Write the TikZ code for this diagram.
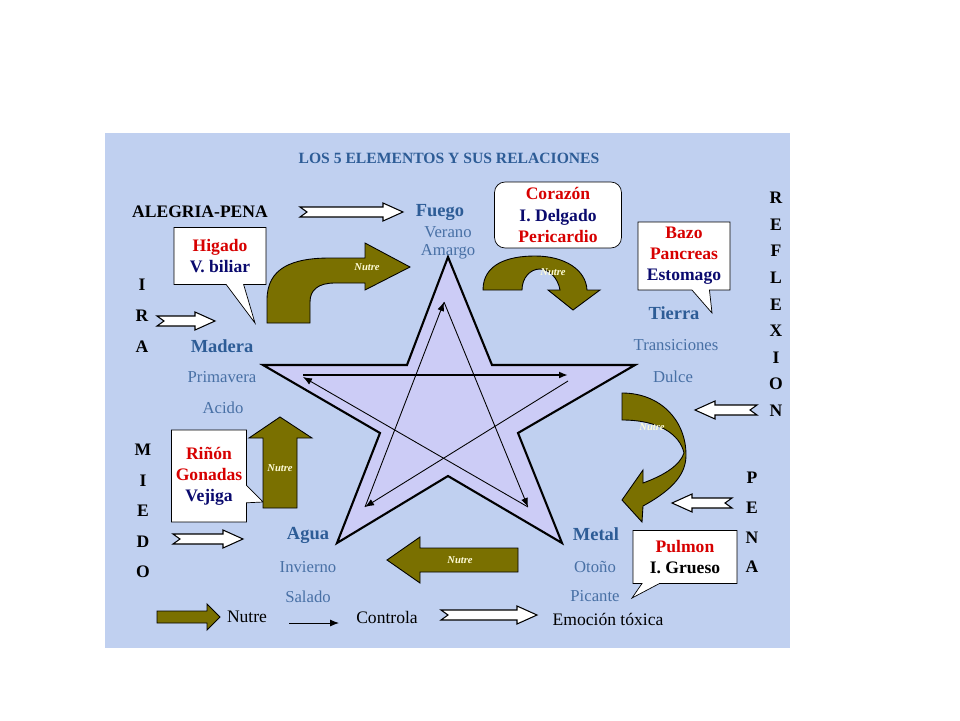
\documentclass[tikz,border=0pt]{standalone}
\usepackage{fontspec}
\setmainfont{Liberation Serif}
\usetikzlibrary{arrows.meta,shapes.callouts}

\definecolor{panel}{RGB}{192,208,240}
\definecolor{starfill}{RGB}{204,204,246}
\definecolor{elemblue}{RGB}{45,92,150}
\definecolor{subblue}{RGB}{72,112,165}
\definecolor{organred}{RGB}{215,0,0}
\definecolor{organnavy}{RGB}{10,10,110}
\definecolor{nutre}{RGB}{122,112,0}

\begin{document}
\begin{tikzpicture}[x=0.02cm,y=-0.02cm,
   elem/.style={text=elemblue,font=\fontsize{10.5}{12}\selectfont\bfseries,inner sep=0pt},
   sub/.style={text=subblue,font=\fontsize{9.5}{11}\selectfont,inner sep=0pt},
   organ/.style={draw,fill=white,rectangle callout,callout pointer width=0.35cm,align=center,
                 font=\fontsize{10}{12}\selectfont\bfseries,inner sep=2pt},
   letter/.style={font=\fontsize{10}{12}\selectfont\bfseries,inner sep=0pt},
   nutrebox/.style={draw,fill=nutre,line width=0.5pt},
   nutrelab/.style={text=yellow!15,font=\fontsize{6}{7}\selectfont\bfseries\itshape,inner sep=0pt},
   legend/.style={font=\fontsize{10}{12}\selectfont,inner sep=0pt},
   ctrl/.style={-{Latex[length=1.8mm,width=1.4mm]},line width=0.5pt},
   emo len/.store in=\emolen, emo len=80,
   emoarrow/.pic={\draw[fill=white,line width=0.6pt] (0,-5) -- (\emolen-20,-5) -- (\emolen-20,-9)
      -- (\emolen,0) -- (\emolen-20,9) -- (\emolen-20,5) -- (0,5) -- (7,0) -- cycle;}]
  \useasboundingbox (0,0) rectangle (960,720);
  \fill[white] (0,0) rectangle (960,720);
  \fill[panel] (105,133) rectangle (790,648);

  \node[text=elemblue,font=\fontsize{8.9}{10}\selectfont\bfseries] (title) at (449,158) {LOS 5 ELEMENTOS Y SUS RELACIONES};

  % estrella
  \draw[fill=starfill,line width=1.2pt,line join=miter]
    (448,257) -- (492,365) -- (635,365) -- (518,433) -- (562,543) -- (448,476)
    -- (337,543) -- (380,433) -- (263,365) -- (407,365) -- cycle;
  \coordinate (mad) at (303,375);
  \coordinate (tie) at (568,375);
  \coordinate (agu) at (365,507);
  \coordinate (fue) at (444,302);
  \coordinate (met) at (528,507);
  \draw[ctrl,line width=1.3pt] (mad) -- (tie);
  \draw[ctrl] ([yshift=-0.12cm]tie) -- (agu);
  \draw[ctrl] (agu) -- (fue);
  \draw[ctrl] (fue) -- (met);
  \draw[ctrl] (met) -- ([yshift=-0.04cm]mad);

  % elementos
  \node[elem] (fuego) at (440,212) {Fuego};
  \node[sub] (verano) at (448,232) {Verano};
  \node[sub] (amargo) at (448,252) {Amargo};
  \node[elem] (tierra) at (674,313) {Tierra};
  \node[sub] (transiciones) at (676,345) {Transiciones};
  \node[sub] (dulce) at (673,377) {Dulce};
  \node[elem] (madera) at (222,346) {Madera};
  \node[sub] (primavera) at (222,377) {Primavera};
  \node[sub] (acido) at (223,408) {Acido};
  \node[elem] (agua) at (308,535) {Agua};
  \node[sub] (invierno) at (308,567) {Invierno};
  \node[sub] (salado) at (308,597) {Salado};
  \node[elem] (metal) at (596,534) {Metal};
  \node[sub] (otono) at (595,567) {Otoño};
  \node[sub] (picante) at (595,596) {Picante};

  % organos
  \node[organ,minimum width=1.84cm,minimum height=1.14cm,callout absolute pointer={(255,323)}]
    (higado) at (220,256) {\color{organred}Higado\\\color{organnavy}V. biliar};
  \node[organ,minimum width=1.5cm,minimum height=1.84cm,callout absolute pointer={(263,502)}]
    (rinon) at (209,476) {\color{organred}Riñón\\\color{organred}Gonadas\\\color{organnavy}Vejiga};
  \node[organ,minimum width=2.08cm,minimum height=1.06cm,callout absolute pointer={(632,598)}]
    (pulmon) at (685,557) {\color{organred}Pulmon\\I. Grueso};
  \node[organ,minimum width=1.84cm,minimum height=1.36cm,callout absolute pointer={(712,313)}]
    (bazo) at (684,256) {\color{organred}Bazo\\\color{organred}Pancreas\\\color{organnavy}Estomago};
  \node[draw,fill=white,rounded corners=6pt,minimum width=2.54cm,minimum height=1.32cm,align=center,
        font=\fontsize{10}{12}\selectfont\bfseries,inner sep=2pt]
    (corazon) at (558,215) {\color{organred}Corazón\\\color{organnavy}I. Delgado\\\color{organred}Pericardio};

  % nutre
  \draw[nutrebox] (267,323) -- (267,300) .. controls (267,268) and (292,258) .. (330,258) -- (365,258)
    -- (365,243) -- (410,267) -- (365,290) -- (365,283) -- (335,283)
    .. controls (318,283) and (310,290) .. (310,302) -- (310,323) -- cycle;
  \node[nutrelab] (n1) at (367,267) {Nutre};
  \draw[nutrebox] (483,290) .. controls (483,264) and (508,256) .. (535,256)
    .. controls (565,256) and (586,270) .. (587,290) -- (600,290) -- (573,310) -- (548,290) -- (560,290)
    .. controls (558,278) and (549,269) .. (540,269) .. controls (530,269) and (522,278) .. (522,290) -- cycle;
  \node[nutrelab] (n2) at (553,272) {Nutre};
  \draw[nutrebox] (622,393) .. controls (660,393) and (686,420) .. (686,455)
    .. controls (686,472) and (676,488) .. (643,506) -- (642,522) -- (622,500) -- (643,470) -- (643,483)
    .. controls (665,475) and (680,465) .. (684,453) .. controls (680,435) and (660,420) .. (622,420) -- cycle;
  \node[nutrelab] (n3) at (652,427) {Nutre};
  \draw[nutrebox] (518,548) -- (420,548) -- (420,537) -- (387,560) -- (420,583) -- (420,572) -- (518,572) -- cycle;
  \node[nutrelab] (n4) at (460,560) {Nutre};
  \draw[nutrebox] (263,508) -- (263,438) -- (249,438) -- (280,417) -- (312,438) -- (297,438) -- (297,508) -- cycle;
  \node[nutrelab] (n5) at (280,468) {Nutre};

  % emociones
  \node[letter] (alegria) at (200,212) {ALEGRIA-PENA};
  \pic[emo len=103] at (300,212) {emoarrow};
  \foreach \ch [count=\i] in {I,R,A}
    \node[letter] (ira\i) at (142,254+31*\i) {\ch};
  \pic[emo len=58] at (157,321) {emoarrow};
  \foreach \ch [count=\i] in {M,I,E,D,O}
    \node[letter] (miedo\i) at (143,419.5+30.5*\i) {\ch};
  \pic[emo len=70] at (173,539) {emoarrow};
  \foreach \ch [count=\i] in {R,E,F,L,E,X,I,O,N}
    \node[letter] (refl\i) at (776,171.4+26.6*\i) {\ch};
  \pic[emo len=62,rotate=180] at (757,410) {emoarrow};
  \foreach \ch [count=\i] in {P,E,N,A}
    \node[letter] (pena\i) at (752,448.3+29.7*\i) {\ch};
  \pic[emo len=60,rotate=180] at (732,503) {emoarrow};

  % leyenda
  \draw[nutrebox] (157,611) -- (207,611) -- (207,604) -- (220,617) -- (207,630) -- (207,623) -- (157,623) -- cycle;
  \node[legend] (lnutre) at (247,617) {Nutre};
  \coordinate (c1) at (289,623);
  \coordinate (c2) at (339,623);
  \draw[ctrl] (c1) -- (c2);
  \node[legend] (lcontrola) at (387,617) {Controla};
  \pic[emo len=96] at (441,615) {emoarrow};
  \node[legend] (lemocion) at (608,619) {Emoción tóxica};
\end{tikzpicture}
\end{document}
